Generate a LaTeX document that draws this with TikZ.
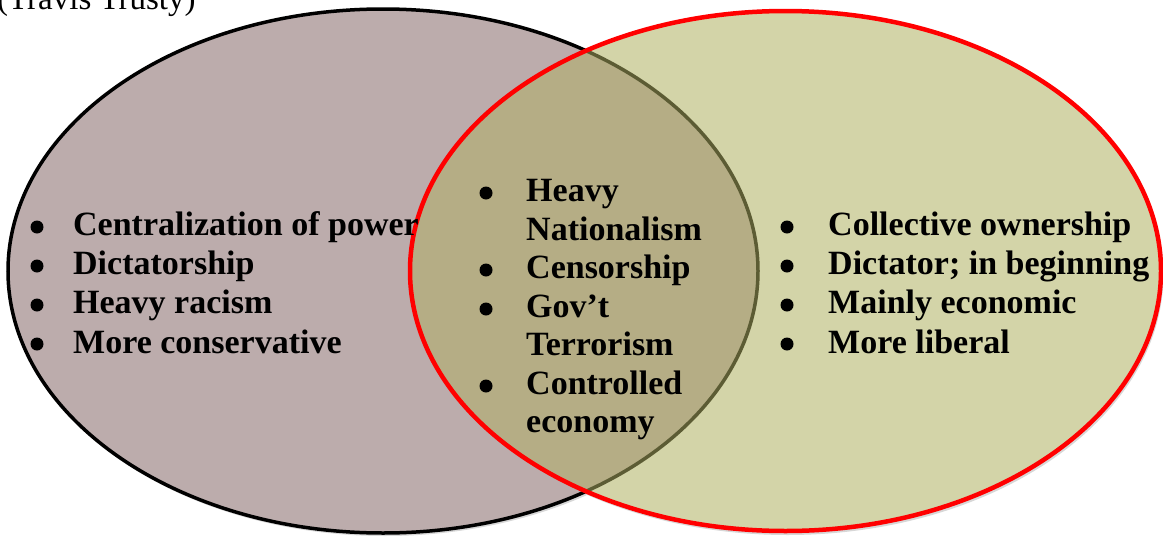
\documentclass[tikz,border=0pt]{standalone}
\usepackage{fontspec}
\setmainfont{Liberation Serif}
\definecolor{mauvefill}{RGB}{188,172,172}
\definecolor{olivefill}{RGB}{211,212,168}
\definecolor{overlapfill}{RGB}{181,173,133}
\definecolor{oliveline}{RGB}{92,92,52}
\definecolor{shadowgray}{RGB}{215,215,215}
\tikzset{
  item/.style={anchor=base west, inner sep=0pt, font=\fontsize{34}{40}\selectfont\bfseries},
  dot/.style={circle, fill=black, inner sep=0pt, minimum size=13pt},
  credit/.style={anchor=base west, inner sep=0pt, font=\fontsize{33}{38}\selectfont},
  leftset/.style={fill=mauvefill, draw=black, line width=3.5pt},
  rightset/.style={fill=olivefill, draw=none},
  rightrim/.style={draw=red, line width=4.5pt},
  shade/.style={fill=shadowgray, draw=none}
}
\begin{document}
\begin{tikzpicture}[x=1pt,y=-1pt]
\useasboundingbox (0,0) rectangle (1163,536);
\clip (0,0) rectangle (1163,536);
% shadows
\fill[shade] (385,274) ellipse [x radius=376pt, y radius=262pt];
\fill[shade] (787.5,274) ellipse [x radius=376pt, y radius=261pt];
% sets
\path[leftset] (383,271) ellipse [x radius=375pt, y radius=262pt];
\path[rightset] (785.5,271) ellipse [x radius=375.5pt, y radius=260pt];
\begin{scope}
  \clip (785.5,271) ellipse [x radius=375.5pt, y radius=260pt];
  \path[fill=overlapfill, draw=oliveline, line width=3.5pt] (383,271) ellipse [x radius=375pt, y radius=262pt];
\end{scope}
\path[rightrim] (785.5,271) ellipse [x radius=375.5pt, y radius=260pt];
% credit
\node[credit] (cr) at (-3,9.5) {(Travis Trusty)};
% left column
\node[dot] (b1) at (37,227) {};
\node[dot] (b2) at (37,266) {};
\node[dot] (b3) at (37,305) {};
\node[dot] (b4) at (37,344) {};
\node[item] (l1) at (73,235) {Centralization of power};
\node[item] (l2) at (73,274.3) {Dictatorship};
\node[item] (l3) at (73,313.6) {Heavy racism};
\node[item] (l4) at (73,353) {More conservative};
% middle column
\node[dot] (m1) at (486,193) {};
\node[dot] (m2) at (486,270) {};
\node[dot] (m3) at (486,309) {};
\node[dot] (m4) at (486,386) {};
\node[item] (c1) at (526,201.5) {Heavy};
\node[item] (c2) at (526,240) {Nationalism};
\node[item] (c3) at (526,278.5) {Censorship};
\node[item] (c4) at (526,317) {Gov’t};
\node[item] (c5) at (526,355.5) {Terrorism};
\node[item] (c6) at (526,394) {Controlled};
\node[item] (c7) at (526,432) {economy};
% right column
\node[dot] (r1) at (787,227) {};
\node[dot] (r2) at (787,266) {};
\node[dot] (r3) at (787,305) {};
\node[dot] (r4) at (787,344) {};
\node[item] (t1) at (828,235) {Collective ownership};
\node[item] (t2) at (828,274.3) {Dictator; in beginning};
\node[item] (t3) at (828,313.6) {Mainly economic};
\node[item] (t4) at (828,353) {More liberal};
\end{tikzpicture}
\end{document}
